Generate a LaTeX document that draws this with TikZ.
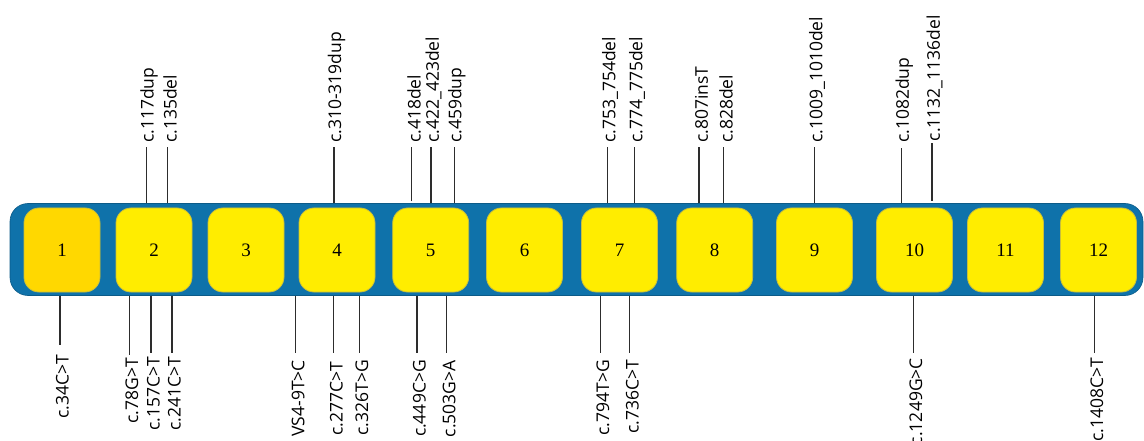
\documentclass[tikz,border=0pt]{standalone}
\usepackage{fontspec}
\setmainfont{Liberation Serif}
\newfontfamily\labfont{Open Sans}
\definecolor{barblue}{RGB}{15,114,170}
\definecolor{exyellow}{RGB}{255,237,0}
\definecolor{exgold}{RGB}{255,216,0}
\definecolor{exedge}{RGB}{200,190,60}
\definecolor{stemgray}{RGB}{45,45,45}
\tikzset{
  barshape/.style={fill=barblue, draw=barblue!80!black, line width=0.6pt, rounded corners=18pt,
    minimum width=1133pt, minimum height=92pt, inner sep=0pt},
  exon/.style={fill=exyellow, draw=exedge, line width=0.8pt, rounded corners=15pt,
    minimum width=76pt, minimum height=84pt, inner sep=0pt, font=\fontsize{19}{20}\selectfont},
  stem/.style={draw=stemgray, line width=1.2pt},
  toplabel/.style={rotate=90, anchor=west, inner sep=0pt, font=\labfont\fontsize{17.5}{18}\selectfont},
  botlabel/.style={rotate=90, anchor=east, inner sep=0pt, font=\labfont\fontsize{17.5}{18}\selectfont},
}
% #1 name, #2 x, #3 line top y, #4 line bottom y, #5 text start y, #6 text
\newcommand\toplab[6]{%
  \coordinate (#1a) at (#2,#4);
  \coordinate (#1b) at (#2,#3);
  \node[toplabel] (#1) at (#2+2.5,#5) {#6};
  \draw[stem] (#1a) -- (#1b);
}
% #1 name, #2 x, #3 line bottom y, #4 text top y, #5 text
\newcommand\botlab[5]{%
  \coordinate (#1a) at (#2,295.5);
  \coordinate (#1b) at (#2,#3);
  \node[botlabel] (#1) at (#2+2.5,#4) {#5};
  \draw[stem] (#1a) -- (#1b);
}
\begin{document}
\begin{tikzpicture}[x=1pt,y=-1pt]
\useasboundingbox (0,0) rectangle (1144,441);
\node[barshape] (bar) at (576.5,249.5) {};
\node[exon, fill=exgold] (b1) at (62,250) {1};
\node[exon] (b2) at (154,250) {2};
\node[exon] (b3) at (246,250) {3};
\node[exon] (b4) at (337,250) {4};
\node[exon] (b5) at (430.7,250) {5};
\node[exon] (b6) at (524.5,250) {6};
\node[exon] (b7) at (619.5,250) {7};
\node[exon] (b8) at (714.7,250) {8};
\node[exon] (b9) at (814.5,250) {9};
\node[exon] (b10) at (914.5,250) {10};
\node[exon] (b11) at (1005.5,250) {11};
\node[exon] (b12) at (1098.5,250) {12};

\toplab{t117}{146.7}{147}{203.5}{143}{c.117dup}
\toplab{t135}{167.7}{147}{203.5}{143}{c.135del}
\toplab{t310}{334}{147}{203.5}{143}{c.310-319dup}
\toplab{t418}{411.7}{147}{201.5}{143}{c.418del}
\toplab{t422}{431}{147}{203.5}{143}{c.422\_423del}
\toplab{t459}{454.3}{147}{203.5}{143}{c.459dup}
\toplab{t753}{607.5}{147}{203.5}{143}{c.753\_754del}
\toplab{t774}{634.5}{147}{203.5}{143}{c.774\_775del}
\toplab{t807}{699}{147}{203.5}{143}{c.807insT}
\toplab{t828}{723.5}{147}{203.5}{143}{c.828del}
\toplab{t1009}{814.5}{147}{203.5}{143}{c.1009\_1010del}
\toplab{t1082}{901.7}{148}{203.5}{143}{c.1082dup}
\toplab{t1132}{932}{143}{201}{141.5}{c.1132\_1136del}

\botlab{u34}{60}{345}{355}{c.34C>T}
\botlab{u78}{129.3}{355}{358}{c.78G>T}
\botlab{u157}{151}{353}{357}{c.157C>T}
\botlab{u241}{172}{353}{357}{c.241C>T}
\botlab{uvs4}{295.5}{353}{360}{VS4-9T>C}
\botlab{u277}{333.8}{353}{362}{c.277C>T}
\botlab{u326}{359.3}{353}{360}{c.326T>G}
\botlab{u449}{417}{353}{360}{c.449C>G}
\botlab{u503}{446.7}{353}{360}{c.503G>A}
\botlab{u794}{600.5}{353}{360}{c.794T>G}
\botlab{u736}{629.8}{353}{360}{c.736C>T}
\botlab{u1249}{913.3}{353}{358}{c.1249G>C}
\botlab{u1408}{1094.3}{353}{358}{c.1408C>T}
\end{tikzpicture}
\end{document}
